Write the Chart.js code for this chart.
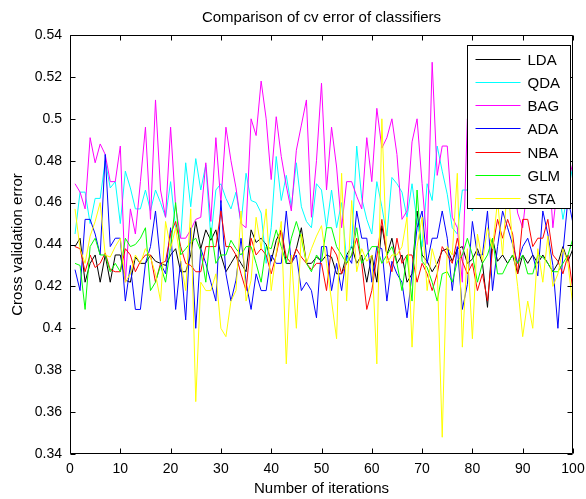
<!DOCTYPE html>
<html>
<head>
<meta charset="utf-8">
<script src="https://cdn.jsdelivr.net/npm/chart.js@4.4.1/dist/chart.umd.min.js"></script>
<style>
  html, body { margin: 0; padding: 0; background: #fff; }
  #wrap { width: 586px; height: 499px; }
</style>
</head>
<body>
<div id="wrap"><canvas id="cv-chart"></canvas></div>
<script>
// iteration index 1..100
const iterations = Array.from({ length: 100 }, (_, i) => i + 1);

const chartTitle = 'Comparison of cv error of classifiers';
const classifierNames = ['LDA', 'QDA', 'BAG', 'ADA', 'NBA', 'GLM', 'STA'];
const lineColors = ['#000000', '#00ffff', '#ff00ff', '#0000ff', '#ff0000', '#00ff00', '#ffff00'];

const ldaErr = [
  0.439, 0.443, 0.422, 0.431, 0.435, 0.422, 0.435, 0.422, 0.435, 0.435,
  0.423, 0.422, 0.434, 0.431, 0.431, 0.435, 0.432, 0.431, 0.430, 0.435,
  0.438, 0.427, 0.427, 0.435, 0.451, 0.438, 0.447, 0.442, 0.447, 0.435,
  0.427, 0.431, 0.435, 0.431, 0.427, 0.447, 0.441, 0.443, 0.440, 0.432,
  0.442, 0.447, 0.431, 0.431, 0.438, 0.448, 0.431, 0.431, 0.434, 0.432,
  0.435, 0.434, 0.426, 0.426, 0.435, 0.439, 0.431, 0.435, 0.422, 0.435,
  0.422, 0.449, 0.435, 0.443, 0.431, 0.435, 0.422, 0.426, 0.456, 0.435,
  0.432, 0.427, 0.431, 0.437, 0.438, 0.432, 0.438, 0.439, 0.431, 0.433,
  0.438, 0.431, 0.410, 0.443, 0.432, 0.435, 0.431, 0.435, 0.426, 0.435,
  0.431, 0.435, 0.431, 0.435, 0.431, 0.427, 0.431, 0.439, 0.432, 0.438
];
const qdaErr = [
  0.445, 0.465, 0.465, 0.450, 0.462, 0.462, 0.480, 0.467, 0.470, 0.450,
  0.475, 0.467, 0.457, 0.457, 0.466, 0.456, 0.466, 0.460, 0.453, 0.470,
  0.448, 0.443, 0.479, 0.458, 0.481, 0.466, 0.478, 0.443, 0.466, 0.469,
  0.462, 0.457, 0.465, 0.450, 0.474, 0.461, 0.460, 0.455, 0.431, 0.448,
  0.482, 0.461, 0.473, 0.458, 0.479, 0.458, 0.451, 0.448, 0.469, 0.466,
  0.448, 0.466, 0.448, 0.460, 0.432, 0.440, 0.487, 0.462, 0.452, 0.445,
  0.470, 0.458, 0.444, 0.472, 0.469, 0.465, 0.453, 0.469, 0.451, 0.439,
  0.469, 0.461, 0.487, 0.475, 0.464, 0.448, 0.445, 0.466, 0.466, 0.456,
  0.465, 0.470, 0.462, 0.458, 0.465, 0.470, 0.460, 0.468, 0.460, 0.465,
  0.470, 0.462, 0.458, 0.468, 0.460, 0.465, 0.470, 0.452, 0.465, 0.478
];
const bagErr = [
  0.469, 0.465, 0.457, 0.491, 0.479, 0.488, 0.483, 0.470, 0.470, 0.487,
  0.422, 0.457, 0.445, 0.470, 0.496, 0.452, 0.509, 0.466, 0.453, 0.496,
  0.458, 0.443, 0.443, 0.447, 0.452, 0.453, 0.479, 0.451, 0.491, 0.460,
  0.496, 0.480, 0.467, 0.450, 0.448, 0.500, 0.492, 0.518, 0.500, 0.471,
  0.501, 0.482, 0.468, 0.456, 0.485, 0.497, 0.509, 0.453, 0.480, 0.517,
  0.466, 0.496, 0.477, 0.448, 0.470, 0.470, 0.463, 0.457, 0.491, 0.470,
  0.505, 0.486, 0.491, 0.500, 0.483, 0.452, 0.456, 0.489, 0.500, 0.469,
  0.440, 0.527, 0.473, 0.487, 0.487, 0.453, 0.448, 0.422, 0.500, 0.475,
  0.490, 0.470, 0.465, 0.480, 0.460, 0.470, 0.485, 0.472, 0.455, 0.448,
  0.470, 0.490, 0.475, 0.470, 0.485, 0.448, 0.470, 0.485, 0.470, 0.479
];
const adaErr = [
  0.428, 0.418, 0.452, 0.452, 0.445, 0.435, 0.483, 0.439, 0.443, 0.443,
  0.413, 0.430, 0.409, 0.409, 0.431, 0.439, 0.456, 0.431, 0.426, 0.448,
  0.409, 0.432, 0.404, 0.448, 0.400, 0.438, 0.431, 0.422, 0.413, 0.461,
  0.426, 0.413, 0.423, 0.443, 0.422, 0.409, 0.426, 0.418, 0.418, 0.435,
  0.431, 0.431, 0.456, 0.431, 0.435, 0.418, 0.422, 0.418, 0.405, 0.439,
  0.439, 0.418, 0.431, 0.418, 0.435, 0.431, 0.456, 0.443, 0.443, 0.422,
  0.439, 0.438, 0.413, 0.432, 0.426, 0.422, 0.405, 0.426, 0.448, 0.456,
  0.431, 0.443, 0.443, 0.456, 0.443, 0.418, 0.439, 0.409, 0.421, 0.451,
  0.435, 0.435, 0.456, 0.418, 0.439, 0.456, 0.448, 0.440, 0.431, 0.439,
  0.443, 0.435, 0.425, 0.456, 0.445, 0.430, 0.400, 0.436, 0.462, 0.450
];
const nbaErr = [
  0.439, 0.438, 0.427, 0.435, 0.429, 0.431, 0.436, 0.428, 0.427, 0.427,
  0.438, 0.435, 0.427, 0.432, 0.435, 0.435, 0.422, 0.431, 0.432, 0.445,
  0.451, 0.439, 0.431, 0.430, 0.427, 0.427, 0.439, 0.439, 0.439, 0.456,
  0.439, 0.439, 0.435, 0.426, 0.418, 0.443, 0.435, 0.438, 0.435, 0.426,
  0.435, 0.447, 0.434, 0.431, 0.438, 0.434, 0.431, 0.428, 0.431, 0.431,
  0.418, 0.439, 0.435, 0.426, 0.431, 0.435, 0.443, 0.431, 0.409, 0.418,
  0.434, 0.452, 0.435, 0.427, 0.443, 0.431, 0.435, 0.435, 0.422, 0.431,
  0.426, 0.418, 0.426, 0.439, 0.435, 0.431, 0.443, 0.432, 0.426, 0.431,
  0.418, 0.426, 0.413, 0.438, 0.452, 0.443, 0.452, 0.445, 0.426, 0.452,
  0.452, 0.439, 0.443, 0.443, 0.452, 0.435, 0.432, 0.426, 0.435, 0.418
];
const glmErr = [
  0.431, 0.430, 0.409, 0.439, 0.443, 0.435, 0.435, 0.427, 0.431, 0.427,
  0.443, 0.439, 0.440, 0.443, 0.448, 0.418, 0.422, 0.430, 0.422, 0.439,
  0.460, 0.435, 0.438, 0.441, 0.443, 0.437, 0.422, 0.448, 0.431, 0.435,
  0.435, 0.442, 0.438, 0.435, 0.439, 0.439, 0.431, 0.422, 0.439, 0.438,
  0.447, 0.439, 0.431, 0.443, 0.451, 0.443, 0.431, 0.427, 0.435, 0.432,
  0.448, 0.448, 0.439, 0.435, 0.431, 0.435, 0.448, 0.431, 0.435, 0.439,
  0.439, 0.431, 0.435, 0.439, 0.431, 0.418, 0.435, 0.413, 0.466, 0.432,
  0.429, 0.422, 0.413, 0.426, 0.427, 0.422, 0.432, 0.435, 0.443, 0.435,
  0.422, 0.431, 0.435, 0.443, 0.426, 0.426, 0.431, 0.435, 0.431, 0.435,
  0.426, 0.426, 0.435, 0.434, 0.431, 0.427, 0.427, 0.431, 0.435, 0.443
];
const staErr = [
  0.457, 0.438, 0.431, 0.444, 0.451, 0.460, 0.435, 0.434, 0.439, 0.443,
  0.422, 0.426, 0.435, 0.431, 0.438, 0.434, 0.426, 0.413, 0.451, 0.438,
  0.448, 0.432, 0.418, 0.457, 0.365, 0.422, 0.418, 0.418, 0.426, 0.400,
  0.396, 0.413, 0.418, 0.456, 0.413, 0.423, 0.453, 0.438, 0.457, 0.418,
  0.436, 0.451, 0.383, 0.435, 0.400, 0.445, 0.431, 0.438, 0.444, 0.449,
  0.431, 0.413, 0.395, 0.474, 0.413, 0.461, 0.427, 0.438, 0.432, 0.435,
  0.383, 0.500, 0.431, 0.435, 0.435, 0.439, 0.453, 0.391, 0.439, 0.453,
  0.418, 0.438, 0.429, 0.348, 0.439, 0.435, 0.474, 0.391, 0.438, 0.395,
  0.445, 0.432, 0.448, 0.438, 0.461, 0.435, 0.470, 0.440, 0.420, 0.396,
  0.413, 0.400, 0.438, 0.422, 0.444, 0.420, 0.426, 0.438, 0.431, 0.410
];

const seriesValues = [ldaErr, qdaErr, bagErr, adaErr, nbaErr, glmErr, staErr];
const xTickMin = 0, xTickMax = 100, xTickStep = 10;
const yTickMin = 0.34, yTickMax = 0.54, yTickStep = 0.02;

const FONT = 'Liberation Sans, Arial, Helvetica, sans-serif';

// matlab-ish frame: title over the axes, box, inward ticks on all 4 sides, legend box in the corner
const matlabFrame = {
  id: 'matlabFrame',
  afterDatasetsDraw(chart) {
    const { ctx, chartArea: a, scales } = chart;
    const L = Math.round(a.left) + 0.5, R = Math.round(a.right) - 0.5;
    const T = Math.round(a.top) + 0.5, B = Math.round(a.bottom) - 0.5;
    ctx.save();

    ctx.fillStyle = '#000';
    ctx.font = '15px ' + FONT;
    ctx.textAlign = 'center';
    ctx.textBaseline = 'middle';
    ctx.fillText(chartTitle, (a.left + a.right) / 2, 18);

    ctx.strokeStyle = '#000';
    ctx.lineWidth = 1;
    ctx.beginPath();
    ctx.rect(L, T, R - L, B - T);
    scales.x.ticks.forEach(t => {
      const px = Math.round(scales.x.getPixelForValue(t.value)) + 0.5;
      ctx.moveTo(px, B); ctx.lineTo(px, B - 5);
      ctx.moveTo(px, T); ctx.lineTo(px, T + 5);
    });
    scales.y.ticks.forEach(t => {
      const py = Math.round(scales.y.getPixelForValue(t.value)) + 0.5;
      ctx.moveTo(L, py); ctx.lineTo(L + 5, py);
      ctx.moveTo(R, py); ctx.lineTo(R - 5, py);
    });
    ctx.stroke();

    // legend
    const boxW = 103, boxH = 163;
    const bx = Math.round(a.right) - 3 - boxW + 0.5, by = Math.round(a.top) + 10 + 0.5;
    ctx.fillStyle = '#fff';
    ctx.fillRect(bx, by, boxW, boxH);
    ctx.strokeRect(bx, by, boxW, boxH);
    ctx.font = '15px ' + FONT;
    ctx.textAlign = 'left';
    classifierNames.forEach((name, k) => {
      const ry = Math.round(by + 13 + k * 23.3) + 0.5;
      ctx.strokeStyle = lineColors[k];
      ctx.beginPath();
      ctx.moveTo(bx + 8, ry); ctx.lineTo(bx + 53, ry);
      ctx.stroke();
      ctx.fillStyle = '#000';
      ctx.fillText(name, bx + 60, ry + 1);
    });
    ctx.restore();
  }
};

const datasets = classifierNames.map((name, k) => ({
  label: name,
  data: seriesValues[k].map((v, i) => ({ x: iterations[i], y: v })),
  borderColor: lineColors[k],
  backgroundColor: lineColors[k],
  borderWidth: 1,
  pointRadius: 0,
  tension: 0,
  fill: false,
  order: classifierNames.length - 1 - k   // later series drawn on top, like matlab
}));

new Chart(document.getElementById('cv-chart'), {
  type: 'line',
  data: { datasets },
  options: {
    responsive: true,
    maintainAspectRatio: false,
    animation: false,
    devicePixelRatio: 1,
    layout: { padding: { left: 0, right: 13, top: 35, bottom: 0 } },
    plugins: {
      legend: { display: false },
      tooltip: { enabled: false },
      title: { display: false }
    },
    scales: {
      x: {
        type: 'linear',
        min: xTickMin,
        max: xTickMax,
        // grid hidden, tickLength only used as label offset (keeps the right padding small)
        grid: { display: false, tickLength: 7 },
        border: { display: false },
        ticks: {
          stepSize: xTickStep,
          color: '#000',
          padding: 0,
          maxRotation: 0,
          font: { family: FONT, size: 14 }
        },
        title: {
          display: true,
          text: 'Number of iterations',
          color: '#000',
          font: { family: FONT, size: 15 },
          padding: { top: 0, bottom: 1 }
        },
        afterFit(scale) { scale.height = 45; }
      },
      y: {
        min: yTickMin,
        max: yTickMax,
        grid: { display: false, tickLength: 8 },
        border: { display: false },
        ticks: {
          stepSize: yTickStep,
          color: '#000',
          padding: 0,
          font: { family: FONT, size: 14 },
          callback: v => String(Number(v.toFixed(2)))
        },
        title: {
          display: true,
          text: 'Cross validation error',
          color: '#000',
          font: { family: FONT, size: 15 },
          padding: { top: 9, bottom: 0 }
        },
        afterFit(scale) { scale.width = 70; }
      }
    }
  },
  plugins: [matlabFrame]
});
</script>
</body>
</html>
